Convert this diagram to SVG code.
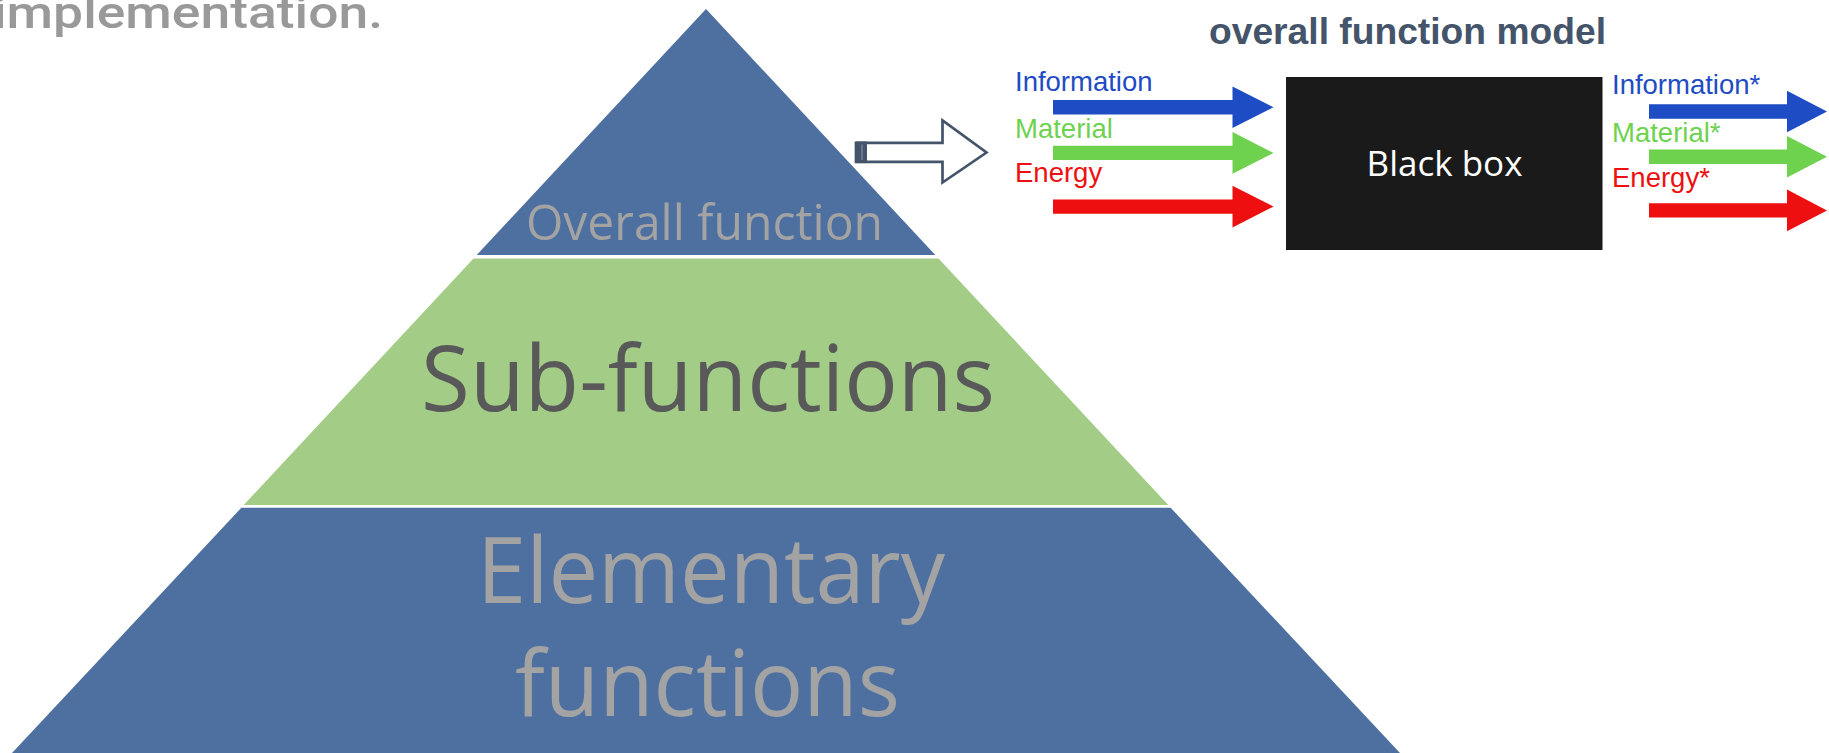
<svg xmlns="http://www.w3.org/2000/svg" width="1829" height="753" viewBox="0 0 1829 753">
  <style>
    .tier-blue { fill: #4E70A0; }
    .tier-green { fill: #A3CD86; }
    .pyr { font-family: "Open Sans", "Noto Sans", sans-serif; }
    .pale { fill: #A3A3A3; }
    .dark { fill: #595959; }
    .lbl { font-family: "Liberation Sans", Arial, sans-serif; font-size: 27.5px; }
    .info { fill: #1E4CC4; }
    .mat { fill: #6ED24F; }
    .nrg { fill: #EE1010; }
  </style>
  <defs>
    <!-- thick flow arrows, drawn from the tail at (0,0) -->
    <path id="flow-in" d="M0,-7.2 H179.5 V-20.8 L220.5,0 L179.5,20.8 V7.2 H0 Z"/>
    <path id="flow-out" d="M0,-7.2 H138 V-20.8 L178,0 L138,20.8 V7.2 H0 Z"/>
  </defs>

  <!-- caption fragment at the top edge -->
  <text x="-7" y="27.5" font-family="Roboto, 'Liberation Sans', sans-serif" font-weight="500" font-size="45" fill="#999999" textLength="390" lengthAdjust="spacingAndGlyphs">implementation.</text>

  <!-- function pyramid -->
  <g id="tier-overall">
    <polygon class="tier-blue" points="706,9 935.3,255 476.7,255"/>
    <text class="pyr pale" x="526" y="240" font-size="49" textLength="357" lengthAdjust="spacingAndGlyphs">Overall function</text>
  </g>
  <g id="tier-sub">
    <polygon class="tier-green" points="473.5,258.5 938.5,258.5 1168.3,505 243.7,505"/>
    <text class="pyr dark" x="421" y="410.7" font-size="91" textLength="574" lengthAdjust="spacingAndGlyphs">Sub-functions</text>
  </g>
  <g id="tier-elementary">
    <polygon class="tier-blue" points="241.4,507.7 1170.6,507.7 1400,753 12,753"/>
    <text class="pyr pale" x="477" y="603" font-size="92" textLength="468" lengthAdjust="spacingAndGlyphs">Elementary</text>
    <text class="pyr pale" x="515" y="716" font-size="92" textLength="385" lengthAdjust="spacingAndGlyphs">functions</text>
  </g>

  <!-- overall function model -->
  <g id="model-title">
    <text x="1209" y="44" font-family="'Liberation Sans', Arial, sans-serif" font-weight="bold" font-size="36.5" fill="#44546A" textLength="397" lengthAdjust="spacingAndGlyphs">overall function model</text>
  </g>
  <g id="black-box">
    <rect x="1286" y="77" width="316.5" height="173" fill="#1A1A1A"/>
    <text x="1444.5" y="176" text-anchor="middle" font-family="'Open Sans', 'Noto Sans', sans-serif" font-size="35" fill="#FFFFFF">Black box</text>
  </g>

  <g id="inputs">
    <text class="lbl info" x="1015" y="90.7">Information</text>
    <text class="lbl mat" x="1015" y="137.7">Material</text>
    <text class="lbl nrg" x="1015" y="181.7">Energy</text>
  </g>
  <g id="outputs">
    <text class="lbl info" x="1612" y="94">Information*</text>
    <text class="lbl mat" x="1612" y="141.7">Material*</text>
    <text class="lbl nrg" x="1612" y="186.7">Energy*</text>
  </g>

  <g id="connectors">
    <!-- hollow arrow from the pyramid top to the model -->
    <path d="M856,142.8 H942.5 V120.5 L986.5,152.5 L942.5,182.5 V161.8 H856 Z" fill="#FFFFFF" stroke="#44546A" stroke-width="2.7" stroke-linejoin="miter"/>
    <rect x="855.7" y="141.5" width="11.3" height="21.6" fill="#44546A"/>
    <line x1="862" y1="144.5" x2="862" y2="160" stroke="#8C98AA" stroke-width="1"/>

    <!-- input flows -->
    <use href="#flow-in" x="1053" y="107.3" class="info"/>
    <use href="#flow-in" x="1053" y="152.9" class="mat"/>
    <use href="#flow-in" x="1053" y="206.6" class="nrg"/>
    <!-- output flows -->
    <use href="#flow-out" x="1649" y="111.5" class="info"/>
    <use href="#flow-out" x="1649" y="156.8" class="mat"/>
    <use href="#flow-out" x="1649" y="210.4" class="nrg"/>
  </g>
</svg>
